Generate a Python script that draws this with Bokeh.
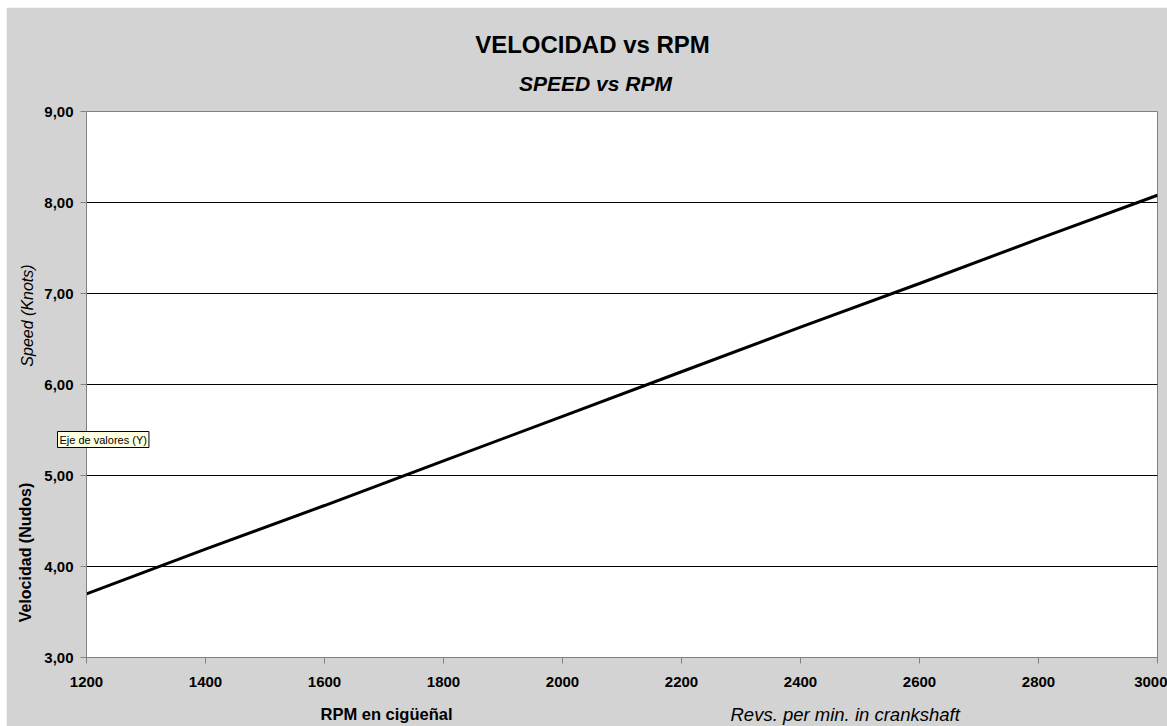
from bokeh.plotting import figure
from bokeh.models import Label, FixedTicker, CustomJSTickFormatter, Range1d
from bokeh.embed import file_html
from bokeh.resources import INLINE

# ---- data ----
rpm = [1200, 1400, 1600, 1800, 2000, 2200, 2400, 2600, 2800, 3000]
speed = [3.70, 4.19, 4.67, 5.16, 5.65, 6.14, 6.63, 7.11, 7.60, 8.08]
x_ticks = [1200, 1400, 1600, 1800, 2000, 2200, 2400, 2600, 2800, 3000]
y_ticks = [3, 4, 5, 6, 7, 8, 9]
title_text = "VELOCIDAD vs RPM"
subtitle_text = "SPEED vs RPM"
x_title_es = "RPM en cigüeñal"
x_title_en = "Revs. per min. in crankshaft"
y_title_es = "Velocidad (Nudos)"
y_title_en = "Speed (Knots)"
tooltip_text = "Eje de valores (Y)"

FONT = "Liberation Sans"
BG = "#D3D3D3"

PAGE_L, PAGE_T = 6, 7           # white strip left / top
W, H = 1167 - PAGE_L, 726 - PAGE_T
ML, MR, MT, MB = 80, 10, 104, 69
X0, X1 = x_ticks[0], x_ticks[-1]
Y0, Y1 = y_ticks[0], y_ticks[-1]

p = figure(width=W, height=H, output_backend="svg", toolbar_location=None,
           x_range=Range1d(X0, X1), y_range=Range1d(Y0, Y1),
           min_border_left=ML, min_border_right=MR, min_border_top=MT, min_border_bottom=MB,
           background_fill_color="white", border_fill_color=BG,
           outline_line_color="#808080", outline_line_width=1)
p.margin = (PAGE_T, 0, 0, PAGE_L)

p.line(rpm, speed, line_color="black", line_width=3)

for ax in (p.xaxis, p.yaxis):
    ax.axis_line_color = "#808080"
    ax.major_tick_line_color = "#808080"
    ax.major_tick_out = 6
    ax.major_tick_in = 0
    ax.minor_tick_line_color = None
    ax.major_label_text_font = FONT
    ax.major_label_text_font_style = "bold"
    ax.major_label_text_font_size = "15px"
    ax.major_label_text_color = "black"
p.xaxis.ticker = FixedTicker(ticks=x_ticks)
p.yaxis.ticker = FixedTicker(ticks=y_ticks)
p.yaxis.formatter = CustomJSTickFormatter(code="return tick.toFixed(2).replace('.', ',');")
p.xaxis.major_label_standoff = 13
p.yaxis.major_label_standoff = 7

p.xgrid.grid_line_color = None
p.ygrid.ticker = FixedTicker(ticks=y_ticks)
p.ygrid.grid_line_color = "black"
p.ygrid.grid_line_width = 1

# ---- text placement in side panels (page pixel targets) ----
FL = PAGE_L + ML          # frame left (page px) = 86
FT = PAGE_T + MT          # frame top = 111
FB = PAGE_T + H - MB      # frame bottom = 657


def lab(text, size, style, **kw):
    return Label(text=text, text_font=FONT, text_font_size=size, text_font_style=style,
                 text_baseline="middle", text_color="black",
                 x_units="screen", y_units="screen", **kw)


# above panel: slots stack upward from the frame top
slot_h = {"sub": 23, "title": 27, "tip": 17, "revs": 19}
b_sub = FT
b_title = b_sub - slot_h["sub"]
b_tip = b_title - slot_h["title"]
b_revs = b_tip - slot_h["tip"]

p.add_layout(lab(subtitle_text, "21px", "bold italic", text_align="center",
                 x=595 - FL, y=b_sub - 83), "above")
p.add_layout(lab(title_text, "24px", "bold", text_align="center",
                 x=592 - FL, y=b_title - 44), "above")
p.add_layout(lab(tooltip_text, "11px", "normal", text_align="left",
                 x=57 - FL, y=b_tip - 439,
                 background_fill_color="#FFFFE1", border_line_color="black",
                 border_line_width=1, padding=2), "above")
p.add_layout(lab(x_title_en, "18.5px", "italic", text_align="left",
                 x=730 - FL, y=b_revs - 713), "above")

# below panel: slot under the x axis
axis_h = 31
b_rpm = FB + axis_h + 18
p.add_layout(lab(x_title_es, "16.5px", "bold", text_align="center",
                 x=386 - FL, y=b_rpm - 712), "below")

# left panel: slots stack leftward from the y axis; outer slot starts at figure edge
slot_w = 18
l_spd = PAGE_L
l_vel = PAGE_L + slot_w
p.add_layout(lab(y_title_es, "16px", "bold", text_align="center", angle=1.5708,
                 x=25 - l_vel, y=FB - 552), "left")
p.add_layout(lab(y_title_en, "16px", "italic", text_align="center", angle=1.5708,
                 x=26 - l_spd, y=FB - 315), "left")

open("out.html", "w").write(file_html(p, INLINE))
